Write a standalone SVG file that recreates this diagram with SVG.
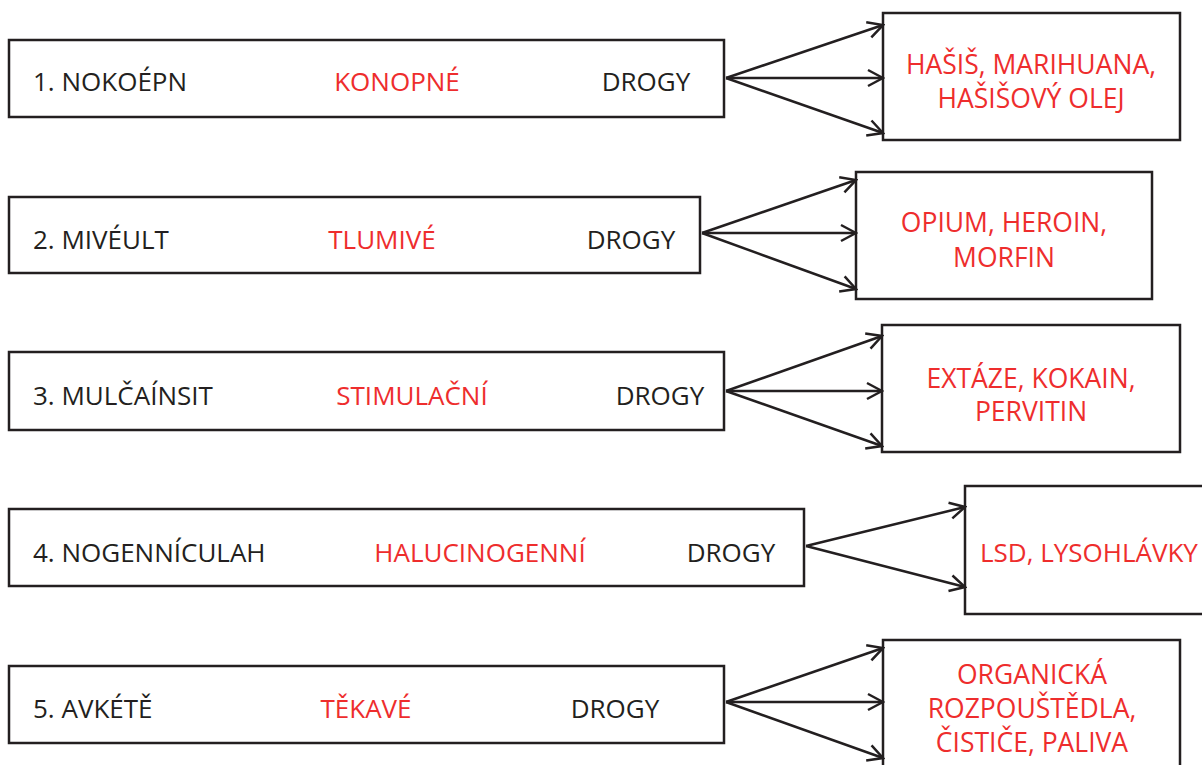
<svg xmlns="http://www.w3.org/2000/svg" width="1202" height="765" viewBox="0 0 1202 765">
<style>
rect.b{fill:#fff;stroke:#231f20;stroke-width:2.5}
text{font-family:"Open Sans","Noto Sans",sans-serif;font-size:26px}
.k{fill:#231f20}
.r{fill:#ee2d2d}
.o{font-size:26.5px}
.c{text-anchor:middle}
.con line{stroke:#231f20;stroke-width:2.5;fill:none}
</style>
<defs>
<marker id="ah" markerUnits="userSpaceOnUse" markerWidth="20" markerHeight="20" viewBox="-18 -10 20 20" refX="0" refY="0" orient="auto">
<path d="M-15,-8 L0,0 L-15,8" fill="none" stroke="#231f20" stroke-width="2.5"/>
</marker>
</defs>
<g id="row1">
<rect class="b" x="9" y="40" width="715" height="77"/>
<text class="k" x="33" y="91">1. NOKOÉPN</text>
<text class="r c" x="397" y="91">KONOPNÉ</text>
<text class="k c" x="646" y="91">DROGY</text>
</g>
<g id="out1">
<rect class="b" x="883" y="13" width="297" height="127"/>
<text class="r c o" x="1031" y="74">HAŠIŠ, MARIHUANA,</text>
<text class="r c o" x="1031" y="108">HAŠIŠOVÝ OLEJ</text>
</g>
<g id="row2">
<rect class="b" x="9" y="197" width="691" height="76"/>
<text class="k" x="33" y="249">2. MIVÉULT</text>
<text class="r c" x="382" y="249">TLUMIVÉ</text>
<text class="k c" x="631" y="249">DROGY</text>
</g>
<g id="out2">
<rect class="b" x="856" y="172" width="296" height="127"/>
<text class="r c o" x="1004" y="232">OPIUM, HEROIN,</text>
<text class="r c o" x="1004" y="267">MORFIN</text>
</g>
<g id="row3">
<rect class="b" x="9" y="352" width="715" height="78"/>
<text class="k" x="33" y="405">3. MULČAÍNSIT</text>
<text class="r c" x="412" y="405">STIMULAČNÍ</text>
<text class="k c" x="660" y="405">DROGY</text>
</g>
<g id="out3">
<rect class="b" x="882" y="325" width="298" height="127"/>
<text class="r c o" x="1031" y="388">EXTÁZE, KOKAIN,</text>
<text class="r c o" x="1031" y="421">PERVITIN</text>
</g>
<g id="row4">
<rect class="b" x="9" y="509" width="795" height="77"/>
<text class="k" x="33" y="562">4. NOGENNÍCULAH</text>
<text class="r c" x="480" y="562">HALUCINOGENNÍ</text>
<text class="k c" x="731" y="562">DROGY</text>
</g>
<g id="out4">
<rect class="b" x="965" y="486" width="250" height="128"/>
<text class="r" x="980" y="562">LSD, LYSOHLÁVKY</text>
</g>
<g id="row5">
<rect class="b" x="9" y="666" width="715" height="77"/>
<text class="k" x="33" y="718">5. AVKÉTĚ</text>
<text class="r c" x="366" y="718">TĚKAVÉ</text>
<text class="k c" x="615" y="718">DROGY</text>
</g>
<g id="out5">
<rect class="b" x="883" y="640" width="297" height="140"/>
<text class="r c o" x="1032" y="684">ORGANICKÁ</text>
<text class="r c o" x="1032" y="718">ROZPOUŠTĚDLA,</text>
<text class="r c o" x="1032" y="752">ČISTIČE, PALIVA</text>
</g>
<g id="connectors" class="con">
<line x1="726" y1="78" x2="883" y2="25" marker-end="url(#ah)"/>
<line x1="726" y1="78" x2="883" y2="78" marker-end="url(#ah)"/>
<line x1="726" y1="78" x2="883" y2="133" marker-end="url(#ah)"/>
<line x1="702" y1="233" x2="856" y2="180" marker-end="url(#ah)"/>
<line x1="702" y1="233" x2="856" y2="233" marker-end="url(#ah)"/>
<line x1="702" y1="233" x2="856" y2="289" marker-end="url(#ah)"/>
<line x1="726" y1="391" x2="882" y2="336" marker-end="url(#ah)"/>
<line x1="726" y1="391" x2="882" y2="391" marker-end="url(#ah)"/>
<line x1="726" y1="391" x2="882" y2="446" marker-end="url(#ah)"/>
<line x1="806" y1="546" x2="965" y2="507" marker-end="url(#ah)"/>
<line x1="806" y1="546" x2="965" y2="587" marker-end="url(#ah)"/>
<line x1="726" y1="702" x2="883" y2="648" marker-end="url(#ah)"/>
<line x1="726" y1="702" x2="883" y2="702" marker-end="url(#ah)"/>
<line x1="726" y1="702" x2="883" y2="758" marker-end="url(#ah)"/>
</g>
</svg>
